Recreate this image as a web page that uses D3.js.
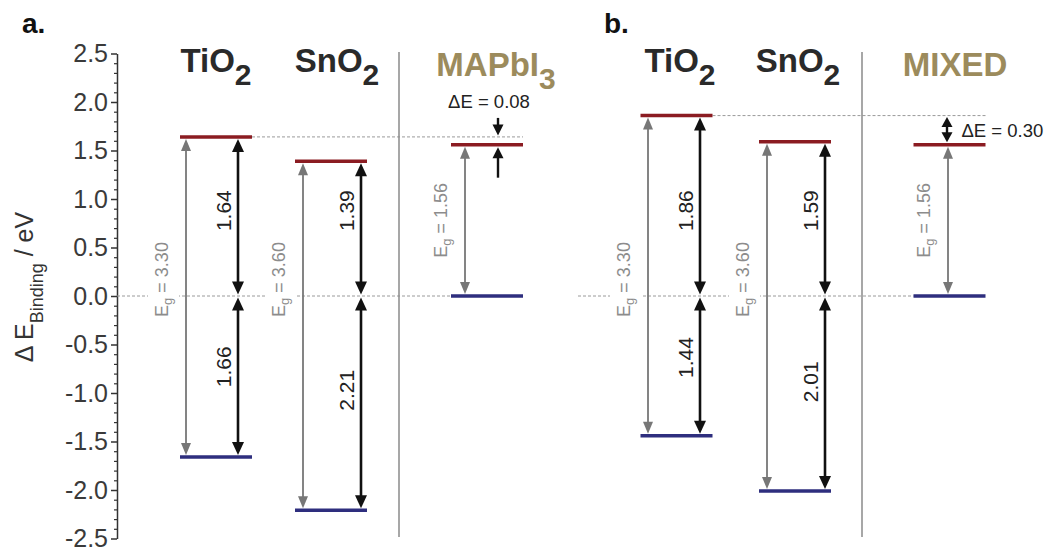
<!DOCTYPE html>
<html>
<head>
<meta charset="utf-8">
<script src="https://cdnjs.cloudflare.com/ajax/libs/d3/7.8.5/d3.min.js"></script>
<style>
  body { margin: 0; background: #fff; }
  svg { font-family: "Liberation Sans", Arial, Helvetica, sans-serif; }
</style>
</head>
<body>
<svg id="chart" width="1049" height="552"></svg>
<script>
// data
const yTicks = [2.5, 2.0, 1.5, 1.0, 0.5, 0.0, -0.5, -1.0, -1.5, -2.0, -2.5];

const panelACats = ["TiO2", "SnO2", "MAPbI3"];
const panelACB = [1.64, 1.39, 1.56];
const panelAVB = [-1.66, -2.21, 0];
const panelAGap = [3.30, 3.60, 1.56];

const panelBCats = ["TiO2", "SnO2", "MIXED"];
const panelBCB = [1.86, 1.59, 1.56];
const panelBVB = [-1.44, -2.01, 0];
const panelBGap = [3.30, 3.60, 1.56];

const deltaE = [0.08, 0.30];

const RED = "#8b1c22", BLUE = "#2e2e7e", TAN = "#9c8b5c", DARK = "#2a2a2a", GREY = "#777", LGREY = "#8c8c8c";

let svg = d3.select("#chart");

let y = d3.scaleLinear()
  .domain([-2.5, 2.5])
  .range([538.5, 53.5]);

// axis
let axisX = 117;
let yAxis = d3.axisLeft(y)
  .tickValues(yTicks)
  .tickSize(6)
  .tickSizeOuter(0)
  .tickPadding(3)
  .tickFormat(d => d.toFixed(1));
let gAxis = svg.append("g")
  .attr("transform", "translate(" + axisX + ",0)")
  .call(yAxis);
gAxis.select(".domain").attr("stroke", "#333").attr("stroke-width", 1.5);
gAxis.selectAll(".tick line").attr("stroke", "#333").attr("stroke-width", 1.5);
gAxis.selectAll(".tick text")
  .attr("font-size", 25)
  .attr("fill", "#3a3a3a")
  .attr("font-family", "Liberation Sans, Arial, sans-serif");

// minor ticks
let minor = d3.range(-25, 26).map(d => d / 10).filter(d => Math.abs(d * 2 - Math.round(d * 2)) > 1e-6);
svg.append("g")
  .attr("transform", "translate(" + axisX + ",0)")
  .call(d3.axisLeft(y).tickValues(minor).tickSize(3).tickFormat(""))
  .call(g => g.select(".domain").remove())
  .selectAll(".tick line").attr("stroke", "#333").attr("stroke-width", 1.2);

// axis title
let title = svg.append("text")
  .attr("transform", "translate(33,287) rotate(-90)")
  .attr("text-anchor", "middle")
  .attr("font-size", 25)
  .attr("fill", "#333");
title.append("tspan").text("\u0394 E");
title.append("tspan").attr("font-size", 18).attr("dy", 10).text("Binding");
title.append("tspan").attr("dy", -10).text(" / eV");

// panel letters
svg.append("text").attr("x", 22).attr("y", 33).attr("font-size", 28).attr("font-weight", "bold").attr("fill", "#111").text("a.");
svg.append("text").attr("x", 604).attr("y", 33).attr("font-size", 28).attr("font-weight", "bold").attr("fill", "#111").text("b.");

// helpers
function head(g, x, tipY, dir, color, w, len) {
  g.append("path")
    .attr("d", d3.line()([[x, tipY], [x - w / 2, tipY - dir * len], [x + w / 2, tipY - dir * len]]) + "Z")
    .attr("fill", color);
}

function dblArrow(g, x, yTop, yBot, color, sw, w, len) {
  g.append("line")
    .attr("x1", x).attr("x2", x)
    .attr("y1", yTop + len * 0.8).attr("y2", yBot - len * 0.8)
    .attr("stroke", color).attr("stroke-width", sw);
  head(g, x, yTop, -1, color, w, len);
  head(g, x, yBot, 1, color, w, len);
}

function chemLabel(g, name, x, yBase, color, size) {
  let t = g.append("text")
    .attr("x", x).attr("y", yBase)
    .attr("text-anchor", "middle")
    .attr("font-size", size)
    .attr("font-weight", "bold")
    .attr("fill", color);
  let parts = name.split(/(\d+)/).filter(s => s.length);
  let shifted = false;
  parts.forEach(p => {
    if (/^\d+$/.test(p)) {
      t.append("tspan").attr("font-size", size - 3).attr("dy", 13).text(p);
      shifted = true;
    } else {
      t.append("tspan").attr("dy", shifted ? -13 : 0).text(p);
      shifted = false;
    }
  });
}

function rotLabel(g, x, yc, text, color, size) {
  return g.append("text")
    .attr("transform", "translate(" + x + "," + yc + ") rotate(-90)")
    .attr("text-anchor", "middle")
    .attr("font-size", size)
    .attr("fill", color)
    .text(text);
}

function gapLabel(g, x, yc, val) {
  let gg = g.append("g").attr("transform", "translate(" + x + "," + yc + ") rotate(-90)");
  let bg = gg.append("rect").attr("fill", "#fff");
  let t = gg.append("text")
    .attr("text-anchor", "middle")
    .attr("font-size", 18)
    .attr("fill", LGREY);
  t.append("tspan").text("E");
  t.append("tspan").attr("font-size", 13).attr("dy", 4).text("g");
  t.append("tspan").attr("dy", -4).text(" = " + val.toFixed(2));
  let bb = t.node().getBBox();
  bg.attr("x", bb.x - 2).attr("y", bb.y - 4).attr("width", bb.width + 4).attr("height", bb.height + 8);
}

function drawPanel(opt) {
  let g = svg.append("g");
  let x = d3.scaleOrdinal().domain(opt.cats).range(opt.centers);
  let half = 36;
  let y0 = y(0);
  let ref = opt.cats[0];
  let refCB = opt.cb[0];

  // dashed reference lines
  g.append("line")
    .attr("x1", opt.zeroStart).attr("x2", x(opt.cats[2]) - half)
    .attr("y1", y0).attr("y2", y0)
    .attr("stroke", "#9a9a9a").attr("stroke-width", 1).attr("stroke-dasharray", "3,2");
  g.append("line")
    .attr("x1", x(ref) + half).attr("x2", x(opt.cats[2]) + half)
    .attr("y1", y(refCB)).attr("y2", y(refCB))
    .attr("stroke", "#9a9a9a").attr("stroke-width", 1).attr("stroke-dasharray", "3,2");

  // separator
  g.append("line")
    .attr("x1", opt.sep).attr("x2", opt.sep)
    .attr("y1", 52).attr("y2", 537)
    .attr("stroke", "#8a8a8a").attr("stroke-width", 1.5);

  opt.cats.forEach((c, i) => {
    let cx = x(c);
    let yc = y(opt.cb[i]), yv = y(opt.vb[i]);
    let gx = cx + opt.grayDx[i];

    // gap arrow and label
    dblArrow(g, gx, yc + 2, yv - 2, GREY, 1.8, 10, 12);
    let eY = i < 2 ? y(0.17) : (yc + yv) / 2;
    gapLabel(g, gx - 18, eY, opt.gap[i]);

    if (i < 2) {
      let bx = cx + opt.blackDx[i];
      dblArrow(g, bx, yc + 2, y0 - 1.5, "#111", 2.6, 12, 13);
      dblArrow(g, bx, y0 + 1.5, yv - 2, "#111", 2.6, 12, 13);
      rotLabel(g, bx - 7, y(0.88), opt.cb[i].toFixed(2), "#222", 21);
      rotLabel(g, bx - 7, y(opt.vb[i] * 0.44), Math.abs(opt.vb[i]).toFixed(2), "#222", 21);
      chemLabel(g, c, opt.titleX[i], 72, DARK, 33);
    } else {
      chemLabel(g, c, opt.titleX[i], 76, TAN, 33);
    }

    // levels
    g.append("line")
      .attr("x1", cx - half).attr("x2", cx + half)
      .attr("y1", yc).attr("y2", yc)
      .attr("stroke", RED).attr("stroke-width", 3.5);
    g.append("line")
      .attr("x1", cx - half).attr("x2", cx + half)
      .attr("y1", yv).attr("y2", yv)
      .attr("stroke", BLUE).attr("stroke-width", 3.5);
  });

  return {g: g, x: x};
}

// panel a
let pa = drawPanel({
  cats: panelACats, cb: panelACB, vb: panelAVB, gap: panelAGap,
  centers: [216, 331, 487], grayDx: [-30, -28, -22], blackDx: [22, 30],
  titleX: [216, 337, 496], sep: 399, zeroStart: axisX
});
{
  let px = pa.x("MAPbI3");
  let ax = px + 11;
  let yRef = y(panelACB[0]), yP = y(panelACB[2]);
  pa.g.append("line").attr("x1", ax).attr("x2", ax).attr("y1", yRef - 19).attr("y2", yRef - 9)
    .attr("stroke", "#111").attr("stroke-width", 2.4);
  head(pa.g, ax, yRef - 1.5, 1, "#111", 11, 11);
  pa.g.append("line").attr("x1", ax).attr("x2", ax).attr("y1", yP + 12).attr("y2", yP + 33)
    .attr("stroke", "#111").attr("stroke-width", 2.4);
  head(pa.g, ax, yP + 2.5, -1, "#111", 11, 11);
  pa.g.append("text").attr("x", px + 2).attr("y", yRef - 29)
    .attr("text-anchor", "middle").attr("font-size", 18.5).attr("fill", "#222")
    .text("\u0394E = " + deltaE[0].toFixed(2));
}

// panel b
let pb = drawPanel({
  cats: panelBCats, cb: panelBCB, vb: panelBVB, gap: panelBGap,
  centers: [676.5, 795, 949.5], grayDx: [-28.5, -28, -1.5], blackDx: [23.5, 30],
  titleX: [680, 798, 955], sep: 862, zeroStart: 578
});
{
  let px = pb.x("MIXED");
  let ax = px - 2.5;
  let yRef = y(panelBCB[0]), yP = y(panelBCB[2]);
  dblArrow(pb.g, ax, yRef + 1.5, yP - 2.5, "#111", 2.4, 11, 10);
  pb.g.append("text").attr("x", px + 12).attr("y", (yRef + yP) / 2 + 7)
    .attr("font-size", 18.5).attr("fill", "#222")
    .text("\u0394E = " + deltaE[1].toFixed(2));
}
</script>
</body>
</html>
